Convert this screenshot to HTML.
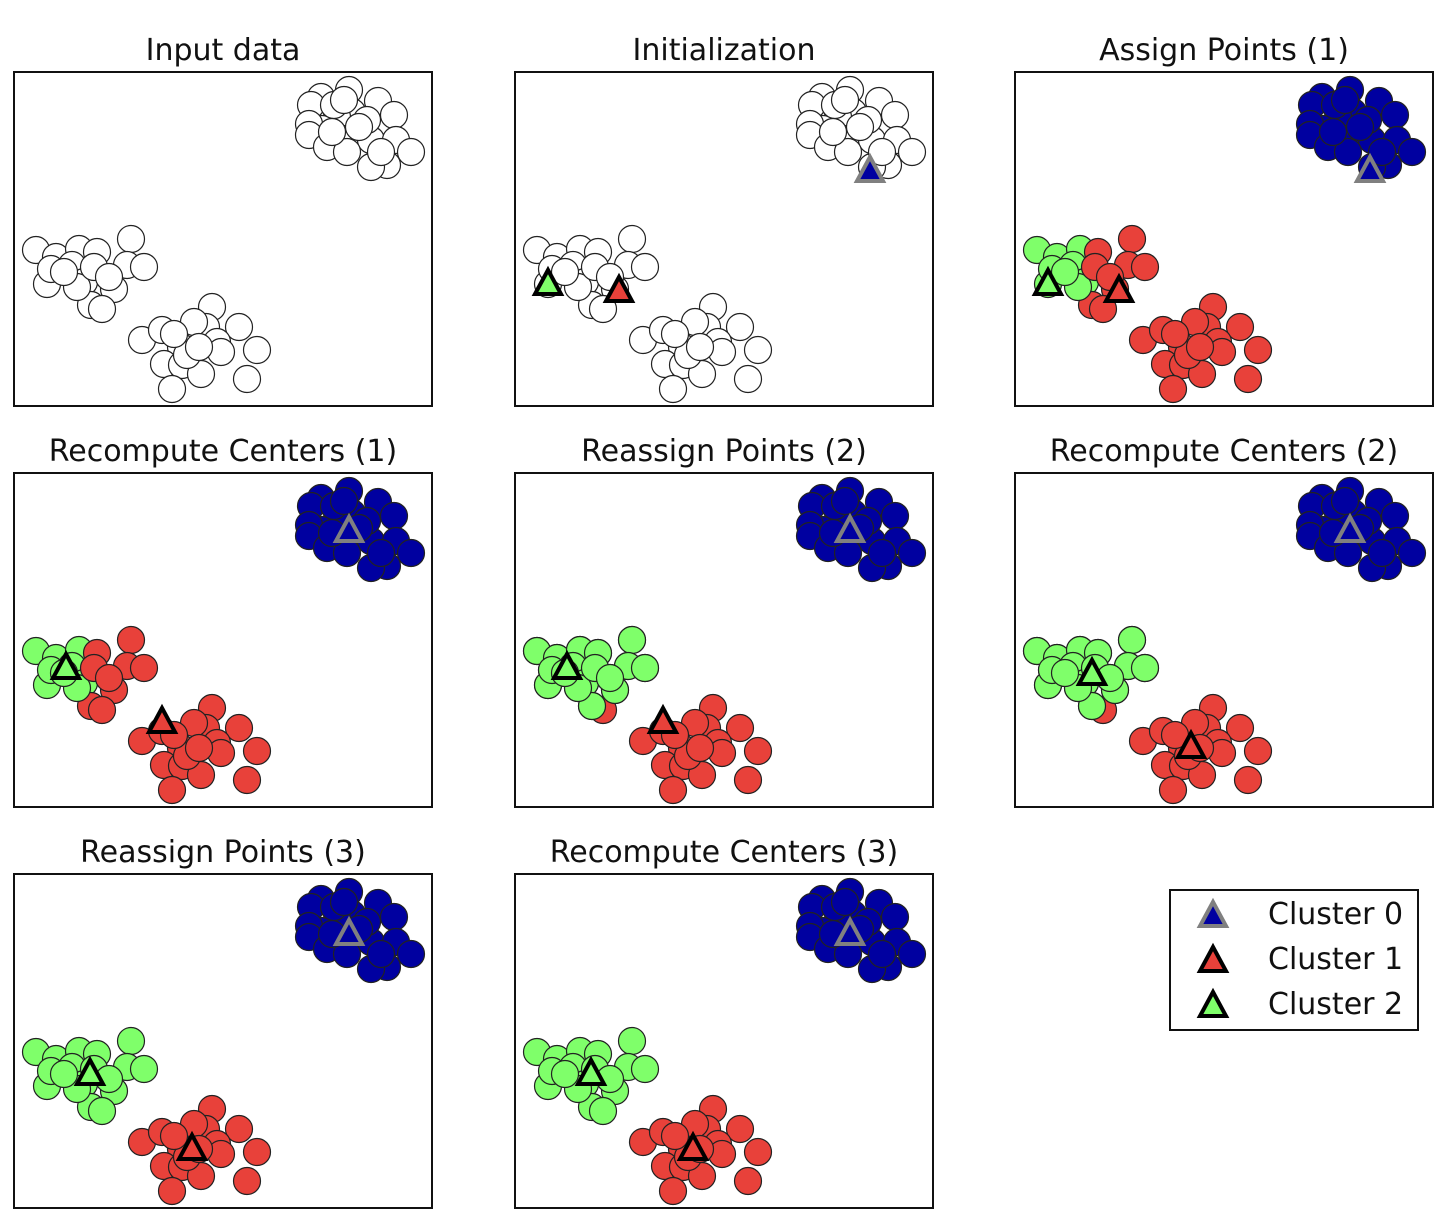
<!DOCTYPE html>
<html><head><meta charset="utf-8"><style>
html,body{margin:0;padding:0;background:#fff;}
svg{display:block;}
text{font-family:"DejaVu Sans","Liberation Sans",sans-serif;font-size:30px;fill:#111;}
</style></head><body>
<svg id="s" width="1456" height="1232" xmlns="http://www.w3.org/2000/svg"></svg>
<script>
var B=[[335,18],[364,29],[380,43],[338,40],[323,45],[307,25],[297,33],[308,57],[295,52],[295,63],[313,75],[332,67],[357,68],[382,68],[397,80],[373,93],[357,95],[353,48],[333,80],[320,33],[367,80],[345,55],[318,60],[330,28]];
var L=[[22,178],[42,185],[65,177],[58,193],[33,212],[70,210],[83,180],[117,167],[113,193],[130,195],[100,217],[77,233],[88,237],[63,215],[37,197],[50,200],[80,195],[95,205]];
var D=[[128,268],[148,258],[198,235],[192,255],[180,250],[225,255],[243,278],[167,275],[203,270],[207,280],[150,292],[168,293],[187,302],[158,317],[233,307],[173,283],[160,262],[185,275]];
var W='#fff',BL='#0000a0',R='#e8413a',G='#7fff6a';
var cols=[14,515,1015],rows=[72,473,874];
var panels=[
 {t:'Input data',m:0},{t:'Initialization',m:0,tri:[[33,211],[104,218],[355,98]]},
 {t:'Assign Points (1)',m:1,tri:[[33,211],[104,218],[355,98]]},
 {t:'Recompute Centers (1)',m:1,tri:[[52,194],[148,248],[335,57]]},
 {t:'Reassign Points (2)',m:2,tri:[[52,194],[148,248],[335,57]]},
 {t:'Recompute Centers (2)',m:2,tri:[[77,200],[176,273],[335,57]]},
 {t:'Reassign Points (3)',m:3,tri:[[76,199],[178,274],[335,59]]},
 {t:'Recompute Centers (3)',m:3,tri:[[76,199],[178,274],[335,59]]}];
var h='';
function tri(x,y,fill,stroke){return '<polygon points="'+(x-13)+','+(y+11)+' '+(x+13)+','+(y+11)+' '+x+','+(y-13)+'" fill="'+fill+'" stroke="'+stroke+'" stroke-width="4" stroke-linejoin="miter"/>';}
panels.forEach(function(p,i){
 var ox=cols[i%3],oy=rows[Math.floor(i/3)];
 h+='<text x="'+(ox+209)+'" y="'+(oy-12)+'" text-anchor="middle">'+p.t+'</text>';
 h+='<rect x="'+ox+'" y="'+oy+'" width="418" height="334" fill="#fff" stroke="#111" stroke-width="2"/>';
 function c(pt,f){h+='<circle cx="'+(ox+pt[0])+'" cy="'+(oy+pt[1])+'" r="13.5" fill="'+f+'" stroke="#222" stroke-width="1.2"/>';}
 B.forEach(function(pt){c(pt,p.m?BL:W);});
 L.forEach(function(pt,k){var f=W;if(p.m==1)f=pt[0]<75?G:R;else if(p.m==2)f=(k==12)?R:G;else if(p.m==3)f=G;c(pt,f);});
 if(p.m==2){ L.forEach(function(pt,k){if(k!=12)c(pt,G);}); }
 D.forEach(function(pt){c(pt,p.m?R:W);});
 if(p.tri){var t=p.tri;
  h+=tri(ox+t[0][0],oy+t[0][1],G,'#000');
  h+=tri(ox+t[1][0],oy+t[1][1],R,'#000');
  h+=tri(ox+t[2][0],oy+t[2][1],BL,'#808080');}
});
h+='<rect x="1170" y="890" width="248" height="140" fill="#fff" stroke="#111" stroke-width="2"/>';
h+=tri(1213,915,BL,'#808080')+tri(1213,960,R,'#000')+tri(1213,1005,G,'#000');
h+='<text x="1268" y="924">Cluster 0</text><text x="1268" y="969">Cluster 1</text><text x="1268" y="1014">Cluster 2</text>';
document.getElementById('s').innerHTML=h;
</script>
</body></html>
